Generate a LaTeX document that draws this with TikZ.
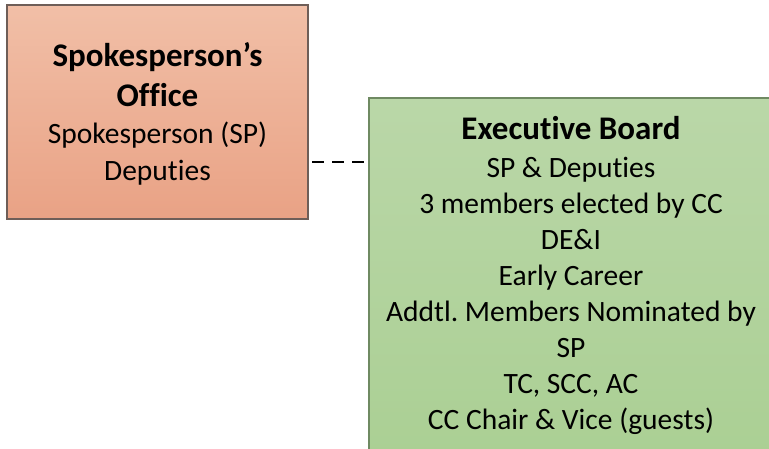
\documentclass[tikz,border=0pt]{standalone}
\usepackage{fontspec}
\setmainfont{Carlito}[Ligatures={NoCommon}]
\usetikzlibrary{calc}
\frenchspacing
\definecolor{orgtop}{HTML}{F1BFA7}
\definecolor{orgbot}{HTML}{E9A285}
\definecolor{grntop}{HTML}{BAD7A8}
\definecolor{grnbot}{HTML}{AACF93}
\definecolor{orgline}{HTML}{6E5E58}
\definecolor{grnline}{HTML}{6F8A62}
\newcommand{\ttlfont}{\fontsize{33}{37}\selectfont\bfseries}
\tikzset{
  x=1pt,y=1pt,
  boxtext/.style={align=center, text=black, inner sep=0pt},
  connector/.style={line width=2.6pt, dash pattern=on 12pt off 8pt, draw=black}
}
\begin{document}
\begin{tikzpicture}
\useasboundingbox (0,0) rectangle (769,-449);
% left box
\shade[top color=orgtop, bottom color=orgbot, draw=orgline, line width=1.2pt] (7,-5) rectangle (308,-219);
\node[boxtext, font=\fontsize{29.5}{37}\selectfont] (lb) at (157.5,-114) {{\ttlfont Spokesperson’s}\\[3pt]{\ttlfont Office}\\Spokesperson (SP)\\Deputies};
% right box
\begin{scope}
\clip (0,0) rectangle (769,-449);
\shade[top color=grntop, bottom color=grnbot, draw=grnline, line width=1.2pt] (369,-98) rectangle (775,-470);
\end{scope}
\node[boxtext, font=\fontsize{29.5}{36}\selectfont] (rb) at (571,-275) {{\ttlfont Executive Board}\\[2pt]SP \& Deputies\\3 members elected by CC\\DE\&I\\Early Career\\Addtl. Members Nominated by\\SP\\TC, SCC, AC\\CC Chair \& Vice (guests)};
\coordinate (lbe) at (312,-162);
\coordinate (rbw) at (369,-162);
\draw[connector] (lbe) -- ([xshift=-3pt]rbw);
\end{tikzpicture}
\end{document}
